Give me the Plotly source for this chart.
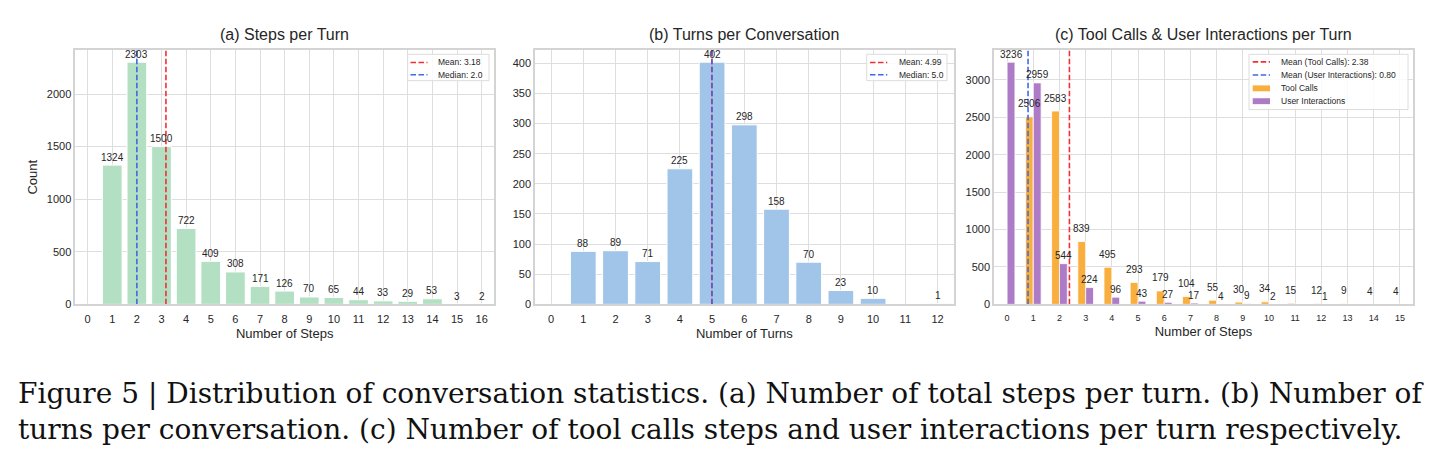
import plotly.graph_objects as go

# ---------------- data ----------------
steps_x = list(range(0, 17))
steps_counts = [0, 1324, 2303, 1500, 722, 409, 308, 171, 126, 70, 65, 44, 33, 29, 53, 3, 2]
steps_mean = 3.18
steps_median = 2.0

turns_x = list(range(0, 13))
turns_counts = [0, 88, 89, 71, 225, 402, 298, 158, 70, 23, 10, 0, 1]
turns_mean = 4.99
turns_median = 5.0

calls_x = list(range(0, 16))
tool_calls = [0, 2506, 2583, 839, 495, 293, 179, 104, 55, 30, 34, 15, 12, 9, 4, 4]
user_inter = [3236, 2959, 544, 224, 96, 43, 27, 17, 4, 9, 2, 0, 1, 0, 0, 0]
tool_mean = 2.38
user_mean = 0.80

titles = ["(a) Steps per Turn", "(b) Turns per Conversation",
          "(c) Tool Calls & User Interactions per Turn"]
xtitles = ["Number of Steps", "Number of Turns", "Number of Steps"]
caption1 = "Figure 5 | Distribution of conversation statistics. (a) Number of total steps per turn. (b) Number of"
caption2 = "turns per conversation. (c) Number of tool calls steps and user interactions per turn respectively."

# ---------------- style ----------------
W, H = 1442, 468
GREEN = "#B3DFC3"
LBLUE = "#A1C4E9"
ORANGE = "#F9AF3E"
PURPLE = "#AE7BC7"
RED = "#F03036"
BLUE = "#3E6AEA"
GRID = "#DEDEDE"
SPINE = "#D4D4D4"
TXT = "#262626"
SANS = "Liberation Sans, Arial, sans-serif"
DASH = "5.5px,2.5px"

panels = [(75.3, 494.0), (535.0, 953.6), (994.0, 1413.0)]
top_px, bot_px = 50.7, 308.3
ydom = [(H - bot_px) / H, (H - top_px) / H]

fig = go.Figure()
shapes = []
annotations = []


def vline(x, top, color, xa, ya, opacity=1.0):
    fig.add_trace(go.Scatter(x=[x, x], y=[0, top], mode="lines", opacity=opacity,
                             line=dict(color=color, width=1.6, dash=DASH), showlegend=False,
                             xaxis=xa, yaxis=ya, hoverinfo="skip"))


def labels(xs, ys, xa, ya, shift=8.0):
    for x, y in zip(xs, ys):
        if y > 0:
            annotations.append(dict(text=str(y), x=x, y=y, xref=xa, yref=ya, xanchor="center",
                                    yanchor="middle", yshift=shift, showarrow=False,
                                    font=dict(size=10, color=TXT, family=SANS)))


# ---- panel (a)
fig.add_trace(go.Bar(x=steps_x, y=steps_counts, width=0.8, marker=dict(color=GREEN, line=dict(color="white", width=1)),
                     showlegend=False, xaxis="x", yaxis="y", hoverinfo="skip"))
labels(steps_x, steps_counts, "x", "y")
ya_top = max(steps_counts) * 1.05
vline(steps_mean, ya_top, RED, "x", "y")
vline(steps_median, ya_top, BLUE, "x", "y")

# ---- panel (b)
fig.add_trace(go.Bar(x=turns_x, y=turns_counts, width=0.8, marker=dict(color=LBLUE, line=dict(color="white", width=1)),
                     showlegend=False, xaxis="x2", yaxis="y2", hoverinfo="skip"))
labels(turns_x, turns_counts, "x2", "y2")
yb_top = max(turns_counts) * 1.05
vline(turns_mean, yb_top, RED, "x2", "y2")
vline(turns_median, yb_top, BLUE, "x2", "y2", opacity=0.85)

# ---- panel (c)
bw = 0.3
fig.add_trace(go.Bar(x=calls_x, y=tool_calls, width=bw, offset=-bw,
                     marker=dict(color=ORANGE, line=dict(color="white", width=0.8)),
                     showlegend=False, xaxis="x3", yaxis="y3", hoverinfo="skip"))
fig.add_trace(go.Bar(x=calls_x, y=user_inter, width=bw, offset=0,
                     marker=dict(color=PURPLE, line=dict(color="white", width=0.8)),
                     showlegend=False, xaxis="x3", yaxis="y3", hoverinfo="skip"))
labels([v - bw / 2 for v in calls_x], tool_calls, "x3", "y3", shift=13.0)
labels([v + bw / 2 for v in calls_x], user_inter, "x3", "y3", shift=8.0)
yc_top = max(max(tool_calls), max(user_inter)) * 1.05
vline(tool_mean, yc_top, RED, "x3", "y3")
vline(user_mean, yc_top, BLUE, "x3", "y3")

# ---------------- axes ----------------
axis_common = dict(showgrid=True, gridcolor=GRID, gridwidth=1, zeroline=False, showline=True, mirror=True,
                   linecolor=SPINE, linewidth=1.5, ticks="", color=TXT)
x_ranges = [len(steps_x), len(turns_x), len(calls_x)]
y_tops = [ya_top, yb_top, yc_top]
y_dticks = [500, 50, 500]
xtick_sizes = [11, 11, 9]
layout = {}
for i, (l, r) in enumerate(panels):
    sfx = "" if i == 0 else str(i + 1)
    layout["xaxis" + sfx] = dict(axis_common, domain=[l / W, r / W], range=[-0.5, x_ranges[i] - 0.5],
                                 tickmode="linear", tick0=0, dtick=1, anchor="y" + sfx, ticklabelstandoff=4,
                                 tickfont=dict(size=xtick_sizes[i], family=SANS, color=TXT),
                                 title=dict(text=xtitles[i], font=dict(size=13, family=SANS, color=TXT),
                                            standoff=5))
    layout["yaxis" + sfx] = dict(axis_common, domain=ydom, range=[0, y_tops[i]], tickmode="linear", tick0=0,
                                 dtick=y_dticks[i], anchor="x" + sfx,
                                 tickfont=dict(size=11, family=SANS, color=TXT))
layout["yaxis"]["title"] = dict(text="Count", font=dict(size=13, family=SANS, color=TXT), standoff=6)


# ---------------- manual legends (pixel geometry) ----------------
def px(x):
    return x / W


def py(y):
    return (H - y) / H


def legend_box(x0, x1, y0, y1):
    shapes.append(dict(type="rect", xref="paper", yref="paper", x0=px(x0), x1=px(x1), y0=py(y1), y1=py(y0),
                       line=dict(color="#DCDCDC", width=1), fillcolor="rgba(255,255,255,0.85)", layer="above"))


def legend_line(x0, x1, y, color):
    shapes.append(dict(type="line", xref="paper", yref="paper", x0=px(x0), x1=px(x1), y0=py(y), y1=py(y),
                       line=dict(color=color, width=1.6, dash=DASH), layer="above"))


def legend_patch(x0, x1, y, color):
    shapes.append(dict(type="rect", xref="paper", yref="paper", x0=px(x0), x1=px(x1), y0=py(y + 3), y1=py(y - 3),
                       line=dict(width=0), fillcolor=color, layer="above"))


def legend_text(x, y, text):
    annotations.append(dict(text=text, x=px(x), y=py(y), xref="paper", yref="paper", xanchor="left",
                            yanchor="middle", showarrow=False, font=dict(size=8.5, family=SANS, color=TXT)))


# (a)
legend_box(407.7, 489, 55, 81.7)
legend_line(410.5, 427.5, 63.3, RED)
legend_text(436, 63.3, f"Mean: {steps_mean:.2f}")
legend_line(410.5, 427.5, 75.7, BLUE)
legend_text(436, 75.7, f"Median: {steps_median:.1f}")
# (b)
legend_box(866.7, 947, 55, 81.7)
legend_line(870, 887.3, 63.3, RED)
legend_text(897, 63.3, f"Mean: {turns_mean:.2f}")
legend_line(870, 887.3, 75.7, BLUE)
legend_text(897, 75.7, f"Median: {turns_median:.1f}")
# (c)
legend_box(1249, 1408, 55, 111)
legend_line(1252.7, 1270, 62.7, RED)
legend_text(1278.5, 62.7, f"Mean (Tool Calls): {tool_mean:.2f}")
legend_line(1252.7, 1270, 76, BLUE)
legend_text(1278.5, 76, f"Mean (User Interactions): {user_mean:.2f}")
legend_patch(1252.7, 1270, 89.5, ORANGE)
legend_text(1278.5, 89.5, "Tool Calls")
legend_patch(1252.7, 1270, 102.5, PURPLE)
legend_text(1278.5, 102.5, "User Interactions")

for i, (l, r) in enumerate(panels):
    annotations.append(dict(text=titles[i], x=(l + r) / 2 / W, y=py(34.5), xref="paper", yref="paper",
                            xanchor="center", yanchor="middle", showarrow=False,
                            font=dict(size=16, family=SANS, color=TXT)))
for j, cap in enumerate([caption1, caption2]):
    annotations.append(dict(text=cap, x=px(16), y=py(399 + 36 * j), xref="paper", yref="paper",
                            xanchor="left", yanchor="middle", showarrow=False,
                            font=dict(size=28, family="DejaVu Serif, serif", color="#111111")))

fig.update_layout(width=W, height=H, margin=dict(l=0, r=0, t=0, b=0), paper_bgcolor="white",
                  plot_bgcolor="white", barmode="overlay", annotations=annotations, shapes=shapes, **layout)

fig.write_html("out.html")
